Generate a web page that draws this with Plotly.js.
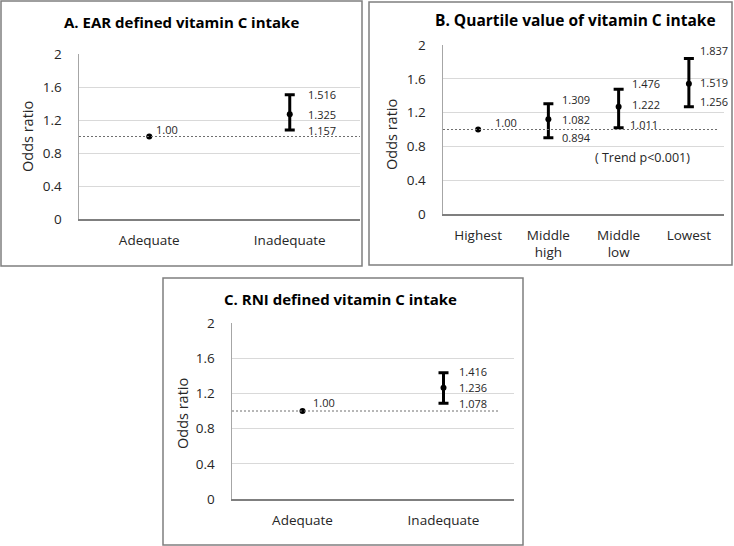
<!DOCTYPE html>
<html><head><meta charset="utf-8">
<script src="https://cdn.plot.ly/plotly-3.0.1.min.js"></script>
<style>html,body{margin:0;padding:0;background:#fff}#chart{width:734px;height:546px}</style>
</head><body><div id="chart"></div>
<script>
// ---------- DATA ----------
// Panel A: EAR defined vitamin C intake
const catsA = ["Adequate", "Inadequate"];
const orA = [1.00, 1.27];
const upperA = [null, 1.507];
const lowerA = [null, 1.08];
const orTextA = ["1.00", "1.325"];
const upperTextA = [null, "1.516"];
const lowerTextA = [null, "1.157"];

// Panel B: Quartile value of vitamin C intake
const catsB = ["Highest", "Middle<br>high", "Middle<br>low", "Lowest"];
const orB = [1.00, 1.12, 1.27, 1.54];
const upperB = [null, 1.305, 1.476, 1.84];
const lowerB = [null, 0.903, 1.02, 1.27];
const orTextB = ["1.00", "1.082", "1.222", "1.519"];
const upperTextB = [null, "1.309", "1.476", "1.837"];
const lowerTextB = [null, "0.894", "1.011", "1.256"];
const trendText = "( Trend p<0.001)";

// Panel C: RNI defined vitamin C intake
const catsC = ["Adequate", "Inadequate"];
const orC = [1.00, 1.265];
const upperC = [null, 1.435];
const lowerC = [null, 1.087];
const orTextC = ["1.00", "1.236"];
const upperTextC = [null, "1.416"];
const lowerTextC = [null, "1.078"];

const yTickVals = [0, 0.4, 0.8, 1.2, 1.6, 2];
const yTickText = ["0", "0.4", "0.8", "1.2", "1.6", "2"];
const refValue = 1;

// ---------- STYLE / LAYOUT ----------
const W = 734, H = 546;
const px = v => v / W;
const py = v => 1 - v / H;
const FONT = "Open Sans, sans-serif";
const TXT = "#262626";

const panels = [
  { key: "", cats: catsA, or: orA, up: upperA, lo: lowerA, tOr: orTextA, tUp: upperTextA, tLo: lowerTextA,
    title: "A. EAR defined vitamin C intake", titlePos: [181, 22], titleSize: 15,
    box: [1, 1, 362, 266], plot: [79, 54, 360, 219], yTitlePos: [27, 137], dashEnd: 1,
    refShift: [5, 7], ciX: [0, 16], upY: [0, 0], ptY: [0, 0], loY: [0, -1] },
  { key: "2", cats: catsB, or: orB, up: upperB, lo: lowerB, tOr: orTextB, tUp: upperTextB, tLo: lowerTextB,
    title: "B. Quartile value of vitamin C intake", titlePos: [575, 20], titleSize: 15.5,
    box: [369, 2, 732, 265], plot: [443, 45, 724, 214], yTitlePos: [391, 135], dashEnd: 0.98,
    refShift: [15, 7], ciX: [0, 12, 11, 9], upY: [0, 4, 6, 8], ptY: [0, 0, 2, 1], loY: [0, 0, 3, 5], loX: [0, 12, 9, 9] },
  { key: "3", cats: catsC, or: orC, up: upperC, lo: lowerC, tOr: orTextC, tUp: upperTextC, tLo: lowerTextC,
    title: "C. RNI defined vitamin C intake", titlePos: [340, 299], titleSize: 15,
    box: [163, 278, 523, 545], plot: [232, 323, 514, 499], yTitlePos: [182, 414], dashEnd: 0.95,
    refShift: [8, 9], ciX: [0, 13], upY: [0, 1], ptY: [0, 0], loY: [0, 0] }
];

const traces = [];
const shapes = [];
const annotations = [];
const layout = {
  width: W, height: H, margin: { l: 0, r: 0, t: 0, b: 0 },
  paper_bgcolor: "#fff", plot_bgcolor: "#fff", showlegend: false,
  font: { family: FONT, color: TXT, size: 13 },
  shapes: shapes, annotations: annotations
};

panels.forEach(p => {
  const xa = "x" + p.key, ya = "y" + p.key;
  const xName = "xaxis" + p.key, yName = "yaxis" + p.key;
  const idx = p.cats.map((_, i) => i);
  layout[xName] = {
    domain: [px(p.plot[0]), px(p.plot[2])], anchor: ya,
    type: "category", range: [-0.5, p.cats.length - 0.5],
    tickvals: idx, ticktext: p.cats, showgrid: false, zeroline: false,
    showline: true, linecolor: "#7f7f7f", linewidth: 1.5,
    ticks: "outside", ticklen: 8, tickcolor: "rgba(0,0,0,0)",
    tickfont: { size: 13.5, color: TXT, family: FONT }, fixedrange: true
  };
  layout[yName] = {
    domain: [py(p.plot[3]), py(p.plot[1])], anchor: xa,
    range: [0, 2], tickvals: yTickVals, ticktext: yTickText,
    showgrid: true, gridcolor: "#d9d9d9", gridwidth: 1, zeroline: false,
    showline: true, linecolor: "#a6a6a6", linewidth: 1.5,
    ticks: "outside", ticklen: 13, tickcolor: "rgba(0,0,0,0)",
    tickfont: { size: 13.5, color: TXT, family: FONT }, fixedrange: true
  };
  // reference point (no CI)
  traces.push({
    type: "scatter", mode: "markers", xaxis: xa, yaxis: ya,
    x: [0], y: [p.or[0]], marker: { color: "#000", size: 6 }, hoverinfo: "skip"
  });
  // points with CI
  const ix = idx.slice(1);
  traces.push({
    type: "scatter", mode: "markers", xaxis: xa, yaxis: ya,
    x: ix, y: ix.map(i => p.or[i]),
    marker: { color: "#000", size: 6 },
    error_y: {
      type: "data", symmetric: false,
      array: ix.map(i => p.up[i] - p.or[i]),
      arrayminus: ix.map(i => p.or[i] - p.lo[i]),
      color: "#000", thickness: 3, width: 5
    },
    hoverinfo: "skip"
  });
  // reference dashed line
  shapes.push({
    type: "line", xref: xa + " domain", yref: ya, x0: 0, x1: p.dashEnd, y0: refValue, y1: refValue,
    line: { color: "#6f6f6f", width: 1, dash: "2px,2px" }, layer: "above"
  });
  // panel border
  shapes.push({
    type: "rect", xref: "paper", yref: "paper",
    x0: px(p.box[0]), x1: px(p.box[2]), y0: py(p.box[3]), y1: py(p.box[1]),
    line: { color: "#7f7f7f", width: 1.5 }, fillcolor: "rgba(0,0,0,0)", layer: "above"
  });
  // title
  annotations.push({
    xref: "paper", yref: "paper", x: px(p.titlePos[0]), y: py(p.titlePos[1]),
    xanchor: "center", yanchor: "middle", showarrow: false, text: "<b>" + p.title + "</b>",
    font: { size: p.titleSize, color: "#000", family: FONT }
  });
  // y title
  annotations.push({
    xref: "paper", yref: "paper", x: px(p.yTitlePos[0]), y: py(p.yTitlePos[1]),
    xanchor: "center", yanchor: "middle", showarrow: false, text: "Odds ratio", textangle: -90,
    font: { size: 14.5, color: TXT, family: FONT }
  });
  // value labels
  const lab = (x, y, text, xs, ys) => annotations.push({
    xref: xa, yref: ya, x: x, y: y, text: text, showarrow: false,
    xanchor: "left", yanchor: "middle", xshift: xs, yshift: ys,
    font: { size: 11, color: TXT, family: FONT }
  });
  lab(0, p.or[0], p.tOr[0], p.refShift[0], p.refShift[1]);
  ix.forEach(i => {
    const lx = p.loX ? p.loX[i] : p.ciX[i];
    lab(i, p.up[i], p.tUp[i], p.ciX[i], p.upY[i]);
    lab(i, p.or[i], p.tOr[i], p.ciX[i], p.ptY[i]);
    lab(i, p.lo[i], p.tLo[i], lx, p.loY[i]);
  });
});

// trend note in panel B
annotations.push({
  xref: "paper", yref: "paper", x: px(642), y: py(157), xanchor: "center", yanchor: "middle",
  showarrow: false, text: trendText, font: { size: 12.5, color: TXT, family: FONT }
});

Plotly.newPlot("chart", traces, layout, { displayModeBar: false, staticPlot: true });
</script>
</body></html>
